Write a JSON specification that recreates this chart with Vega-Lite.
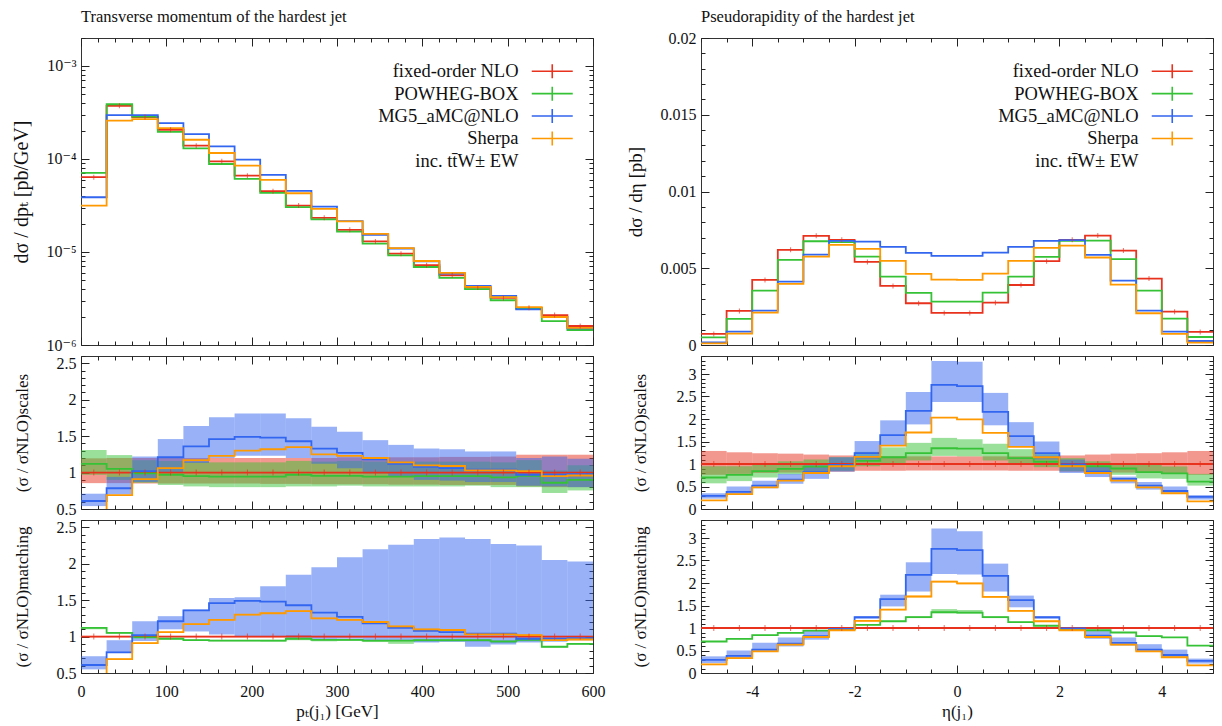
{
"$schema": "https://vega.github.io/schema/vega-lite/v6.json",
"padding": {"left": 10, "top": 8, "right": 5, "bottom": 5},
"columns": 2,
"spacing": {"row": 11, "column": 108},
"bounds": "flush",
"resolve": {"scale": {"color": "shared"}, "legend": {"color": "independent"}},
"config": {
  "font": "Liberation Serif, DejaVu Serif",
  "view": {"stroke": "#333", "strokeWidth": 1},
  "axis": {"labelFont": "Liberation Serif, DejaVu Serif", "labelFontSize": 16, "labelColor": "#111", "titleFont": "Liberation Serif, DejaVu Serif", "titleFontSize": 17, "titleFontWeight": "normal", "titleColor": "#111", "grid": false, "domain": false, "tickColor": "#222", "tickWidth": 1, "labelPadding": 13, "labelFlush": false, "labelOverlap": false, "labelBound": false},
  "legend": {"labelFont": "Liberation Serif, DejaVu Serif"}
},
"datasets": {
"pt": [
{"s":"NLO","lo":0,"hi":30,"v":6.37e-5,"r":1,"sl":0.855,"sh":1.195,"ml":0.99,"mh":1.01},
{"s":"PWG","lo":0,"hi":30,"v":7.08e-5,"r":1.12,"sl":0.97,"sh":1.31,"ml":1.1,"mh":1.13},
{"s":"MG5","lo":0,"hi":30,"v":3.88e-5,"r":0.61,"sl":0.54,"sh":0.71,"ml":0.55,"mh":0.73},
{"s":"SHE","lo":0,"hi":30,"v":3.16e-5,"r":0.48,"sl":null,"sh":null,"ml":0.47,"mh":0.49},
{"s":"NLO","lo":30,"hi":60,"v":3.73e-4,"r":1,"sl":0.855,"sh":1.2,"ml":0.99,"mh":1.01},
{"s":"PWG","lo":30,"hi":60,"v":3.88e-4,"r":1.05,"sl":0.9,"sh":1.24,"ml":1.04,"mh":1.06},
{"s":"MG5","lo":30,"hi":60,"v":2.96e-4,"r":0.785,"sl":0.7,"sh":0.94,"ml":0.8,"mh":0.95},
{"s":"SHE","lo":30,"hi":60,"v":2.58e-4,"r":0.69,"sl":null,"sh":null,"ml":0.68,"mh":0.7},
{"s":"NLO","lo":60,"hi":90,"v":2.82e-4,"r":1,"sl":0.85,"sh":1.2,"ml":0.99,"mh":1.01},
{"s":"PWG","lo":60,"hi":90,"v":2.86e-4,"r":0.99,"sl":0.86,"sh":1.17,"ml":0.98,"mh":1.0},
{"s":"MG5","lo":60,"hi":90,"v":2.96e-4,"r":1.02,"sl":0.87,"sh":1.22,"ml":0.94,"mh":1.21},
{"s":"SHE","lo":60,"hi":90,"v":2.68e-4,"r":0.91,"sl":null,"sh":null,"ml":0.9,"mh":0.92},
{"s":"NLO","lo":90,"hi":120,"v":2.06e-4,"r":1,"sl":0.85,"sh":1.2,"ml":0.99,"mh":1.01},
{"s":"PWG","lo":90,"hi":120,"v":1.96e-4,"r":0.97,"sl":0.83,"sh":1.16,"ml":0.96,"mh":0.98},
{"s":"MG5","lo":90,"hi":120,"v":2.43e-4,"r":1.21,"sl":1.0,"sh":1.46,"ml":1.1,"mh":1.28},
{"s":"SHE","lo":90,"hi":120,"v":2.15e-4,"r":1.06,"sl":null,"sh":null,"ml":1.05,"mh":1.07},
{"s":"NLO","lo":120,"hi":150,"v":1.39e-4,"r":1,"sl":0.85,"sh":1.2,"ml":0.99,"mh":1.01},
{"s":"PWG","lo":120,"hi":150,"v":1.30e-4,"r":0.95,"sl":0.81,"sh":1.15,"ml":0.94,"mh":0.96},
{"s":"MG5","lo":120,"hi":150,"v":1.85e-4,"r":1.36,"sl":1.13,"sh":1.64,"ml":1.07,"mh":1.37},
{"s":"SHE","lo":120,"hi":150,"v":1.61e-4,"r":1.17,"sl":null,"sh":null,"ml":1.16,"mh":1.18},
{"s":"NLO","lo":150,"hi":180,"v":9.44e-5,"r":1,"sl":0.85,"sh":1.2,"ml":0.99,"mh":1.01},
{"s":"PWG","lo":150,"hi":180,"v":8.83e-5,"r":0.945,"sl":0.8,"sh":1.14,"ml":0.935,"mh":0.955},
{"s":"MG5","lo":150,"hi":180,"v":1.37e-4,"r":1.46,"sl":1.2,"sh":1.76,"ml":1.03,"mh":1.53},
{"s":"SHE","lo":150,"hi":180,"v":1.16e-4,"r":1.23,"sl":null,"sh":null,"ml":1.22,"mh":1.24},
{"s":"NLO","lo":180,"hi":210,"v":6.62e-5,"r":1,"sl":0.85,"sh":1.2,"ml":0.99,"mh":1.01},
{"s":"PWG","lo":180,"hi":210,"v":6.11e-5,"r":0.945,"sl":0.8,"sh":1.14,"ml":0.935,"mh":0.955},
{"s":"MG5","lo":180,"hi":210,"v":9.84e-5,"r":1.49,"sl":1.23,"sh":1.81,"ml":1.0,"mh":1.54},
{"s":"SHE","lo":180,"hi":210,"v":8.48e-5,"r":1.3,"sl":null,"sh":null,"ml":1.29,"mh":1.31},
{"s":"NLO","lo":210,"hi":240,"v":4.51e-5,"r":1,"sl":0.845,"sh":1.2,"ml":0.99,"mh":1.01},
{"s":"PWG","lo":210,"hi":240,"v":4.33e-5,"r":0.945,"sl":0.8,"sh":1.14,"ml":0.93,"mh":0.955},
{"s":"MG5","lo":210,"hi":240,"v":6.74e-5,"r":1.48,"sl":1.23,"sh":1.81,"ml":1.0,"mh":1.69},
{"s":"SHE","lo":210,"hi":240,"v":5.96e-5,"r":1.32,"sl":null,"sh":null,"ml":1.31,"mh":1.33},
{"s":"NLO","lo":240,"hi":270,"v":3.16e-5,"r":1,"sl":0.845,"sh":1.2,"ml":0.995,"mh":1.02},
{"s":"PWG","lo":240,"hi":270,"v":3.03e-5,"r":0.97,"sl":0.81,"sh":1.16,"ml":0.95,"mh":0.98},
{"s":"MG5","lo":240,"hi":270,"v":4.54e-5,"r":1.43,"sl":1.2,"sh":1.745,"ml":0.97,"mh":1.85},
{"s":"SHE","lo":240,"hi":270,"v":4.28e-5,"r":1.35,"sl":null,"sh":null,"ml":1.34,"mh":1.36},
{"s":"NLO","lo":270,"hi":300,"v":2.33e-5,"r":1,"sl":0.84,"sh":1.2,"ml":0.99,"mh":1.01},
{"s":"PWG","lo":270,"hi":300,"v":2.24e-5,"r":0.955,"sl":0.81,"sh":1.15,"ml":0.935,"mh":0.965},
{"s":"MG5","lo":270,"hi":300,"v":3.08e-5,"r":1.33,"sl":1.12,"sh":1.63,"ml":0.96,"mh":1.95},
{"s":"SHE","lo":270,"hi":300,"v":2.91e-5,"r":1.25,"sl":null,"sh":null,"ml":1.24,"mh":1.26},
{"s":"NLO","lo":300,"hi":330,"v":1.73e-5,"r":1,"sl":0.84,"sh":1.21,"ml":0.99,"mh":1.01},
{"s":"PWG","lo":300,"hi":330,"v":1.66e-5,"r":0.955,"sl":0.82,"sh":1.16,"ml":0.94,"mh":0.965},
{"s":"MG5","lo":300,"hi":330,"v":2.15e-5,"r":1.27,"sl":1.06,"sh":1.56,"ml":0.97,"mh":2.09},
{"s":"SHE","lo":300,"hi":330,"v":2.13e-5,"r":1.23,"sl":null,"sh":null,"ml":1.22,"mh":1.24},
{"s":"NLO","lo":330,"hi":360,"v":1.30e-5,"r":1,"sl":0.84,"sh":1.21,"ml":0.99,"mh":1.01},
{"s":"PWG","lo":330,"hi":360,"v":1.23e-5,"r":0.945,"sl":0.81,"sh":1.15,"ml":0.925,"mh":0.955},
{"s":"MG5","lo":330,"hi":360,"v":1.53e-5,"r":1.18,"sl":0.99,"sh":1.445,"ml":0.95,"mh":2.2},
{"s":"SHE","lo":330,"hi":360,"v":1.57e-5,"r":1.2,"sl":null,"sh":null,"ml":1.19,"mh":1.21},
{"s":"NLO","lo":360,"hi":390,"v":9.6e-6,"r":1,"sl":0.835,"sh":1.21,"ml":0.99,"mh":1.01},
{"s":"PWG","lo":360,"hi":390,"v":9.2e-6,"r":0.945,"sl":0.81,"sh":1.15,"ml":0.9,"mh":0.955},
{"s":"MG5","lo":360,"hi":390,"v":1.09e-5,"r":1.12,"sl":0.94,"sh":1.38,"ml":0.94,"mh":2.26},
{"s":"SHE","lo":360,"hi":390,"v":1.10e-5,"r":1.14,"sl":null,"sh":null,"ml":1.13,"mh":1.15},
{"s":"NLO","lo":390,"hi":420,"v":7.2e-6,"r":1,"sl":0.835,"sh":1.21,"ml":0.99,"mh":1.01},
{"s":"PWG","lo":390,"hi":420,"v":6.9e-6,"r":0.95,"sl":0.81,"sh":1.15,"ml":0.93,"mh":0.96},
{"s":"MG5","lo":390,"hi":420,"v":7.94e-6,"r":1.08,"sl":0.9,"sh":1.33,"ml":0.92,"mh":2.34},
{"s":"SHE","lo":390,"hi":420,"v":8.0e-6,"r":1.1,"sl":null,"sh":null,"ml":1.09,"mh":1.11},
{"s":"NLO","lo":420,"hi":450,"v":5.62e-6,"r":1,"sl":0.83,"sh":1.215,"ml":0.99,"mh":1.01},
{"s":"PWG","lo":420,"hi":450,"v":5.26e-6,"r":0.95,"sl":0.81,"sh":1.15,"ml":0.93,"mh":0.96},
{"s":"MG5","lo":420,"hi":450,"v":5.86e-6,"r":1.06,"sl":0.89,"sh":1.32,"ml":0.93,"mh":2.36},
{"s":"SHE","lo":420,"hi":450,"v":5.96e-6,"r":1.09,"sl":null,"sh":null,"ml":1.08,"mh":1.1},
{"s":"NLO","lo":450,"hi":480,"v":4.15e-6,"r":1,"sl":0.83,"sh":1.215,"ml":0.99,"mh":1.01},
{"s":"PWG","lo":450,"hi":480,"v":3.98e-6,"r":0.95,"sl":0.82,"sh":1.15,"ml":0.93,"mh":0.96},
{"s":"MG5","lo":450,"hi":480,"v":4.32e-6,"r":1.04,"sl":0.87,"sh":1.29,"ml":0.86,"mh":2.34},
{"s":"SHE","lo":450,"hi":480,"v":4.22e-6,"r":1.03,"sl":null,"sh":null,"ml":1.02,"mh":1.04},
{"s":"NLO","lo":480,"hi":510,"v":3.21e-6,"r":1,"sl":0.83,"sh":1.22,"ml":0.99,"mh":1.01},
{"s":"PWG","lo":480,"hi":510,"v":3.03e-6,"r":0.935,"sl":0.8,"sh":1.14,"ml":0.91,"mh":0.945},
{"s":"MG5","lo":480,"hi":510,"v":3.38e-6,"r":1.04,"sl":0.87,"sh":1.29,"ml":0.89,"mh":2.27},
{"s":"SHE","lo":480,"hi":510,"v":3.27e-6,"r":1.03,"sl":null,"sh":null,"ml":1.02,"mh":1.04},
{"s":"NLO","lo":510,"hi":540,"v":2.51e-6,"r":1,"sl":0.81,"sh":1.245,"ml":0.99,"mh":1.01},
{"s":"PWG","lo":510,"hi":540,"v":2.47e-6,"r":0.955,"sl":0.8,"sh":1.17,"ml":0.935,"mh":0.965},
{"s":"MG5","lo":510,"hi":540,"v":2.41e-6,"r":0.97,"sl":0.82,"sh":1.2,"ml":0.92,"mh":2.25},
{"s":"SHE","lo":510,"hi":540,"v":2.55e-6,"r":1.02,"sl":null,"sh":null,"ml":1.01,"mh":1.03},
{"s":"NLO","lo":540,"hi":570,"v":2.10e-6,"r":1,"sl":0.8,"sh":1.245,"ml":0.99,"mh":1.01},
{"s":"PWG","lo":540,"hi":570,"v":1.81e-6,"r":0.86,"sl":0.72,"sh":1.03,"ml":0.85,"mh":0.87},
{"s":"MG5","lo":540,"hi":570,"v":2.0e-6,"r":0.97,"sl":0.81,"sh":1.22,"ml":0.93,"mh":2.05},
{"s":"SHE","lo":540,"hi":570,"v":2.0e-6,"r":0.95,"sl":null,"sh":null,"ml":0.94,"mh":0.96},
{"s":"NLO","lo":570,"hi":600,"v":1.60e-6,"r":1,"sl":0.8,"sh":1.245,"ml":0.99,"mh":1.01},
{"s":"PWG","lo":570,"hi":600,"v":1.45e-6,"r":0.9,"sl":0.755,"sh":1.1,"ml":0.89,"mh":0.91},
{"s":"MG5","lo":570,"hi":600,"v":1.51e-6,"r":0.98,"sl":0.8,"sh":1.19,"ml":0.95,"mh":2.03},
{"s":"SHE","lo":570,"hi":600,"v":1.53e-6,"r":0.96,"sl":null,"sh":null,"ml":0.95,"mh":0.97}
],
"eta": [
{"s":"NLO","lo":-5,"hi":-4.5,"v":0.00072,"r":1,"sl":0.76,"sh":1.29,"ml":0.995,"mh":1.005},
{"s":"PWG","lo":-5,"hi":-4.5,"v":0.0005,"r":0.7,"sl":0.57,"sh":0.95,"ml":0.69,"mh":0.71},
{"s":"MG5","lo":-5,"hi":-4.5,"v":0.00017,"r":0.29,"sl":0.23,"sh":0.35,"ml":0.22,"mh":0.37},
{"s":"SHE","lo":-5,"hi":-4.5,"v":0.00011,"r":0.19,"sl":null,"sh":null,"ml":0.175,"mh":0.205},
{"s":"NLO","lo":-4.5,"hi":-4,"v":0.00222,"r":1,"sl":0.78,"sh":1.26,"ml":0.995,"mh":1.005},
{"s":"PWG","lo":-4.5,"hi":-4,"v":0.0017,"r":0.76,"sl":0.62,"sh":0.95,"ml":0.75,"mh":0.77},
{"s":"MG5","lo":-4.5,"hi":-4,"v":0.00087,"r":0.38,"sl":0.32,"sh":0.5,"ml":0.33,"mh":0.5},
{"s":"SHE","lo":-4.5,"hi":-4,"v":0.00074,"r":0.33,"sl":null,"sh":null,"ml":0.315,"mh":0.345},
{"s":"NLO","lo":-4,"hi":-3.5,"v":0.00424,"r":1,"sl":0.8,"sh":1.24,"ml":0.995,"mh":1.005},
{"s":"PWG","lo":-4,"hi":-3.5,"v":0.00354,"r":0.84,"sl":0.7,"sh":1.0,"ml":0.83,"mh":0.85},
{"s":"MG5","lo":-4,"hi":-3.5,"v":0.00224,"r":0.52,"sl":0.46,"sh":0.63,"ml":0.47,"mh":0.67},
{"s":"SHE","lo":-4,"hi":-3.5,"v":0.00211,"r":0.48,"sl":null,"sh":null,"ml":0.465,"mh":0.495},
{"s":"NLO","lo":-3.5,"hi":-3,"v":0.0062,"r":1,"sl":0.81,"sh":1.23,"ml":0.995,"mh":1.005},
{"s":"PWG","lo":-3.5,"hi":-3,"v":0.00554,"r":0.89,"sl":0.77,"sh":1.06,"ml":0.88,"mh":0.9},
{"s":"MG5","lo":-3.5,"hi":-3,"v":0.00413,"r":0.65,"sl":0.56,"sh":0.78,"ml":0.59,"mh":0.79},
{"s":"SHE","lo":-3.5,"hi":-3,"v":0.00398,"r":0.63,"sl":null,"sh":null,"ml":0.615,"mh":0.645},
{"s":"NLO","lo":-3,"hi":-2.5,"v":0.00711,"r":1,"sl":0.82,"sh":1.21,"ml":0.995,"mh":1.005},
{"s":"PWG","lo":-3,"hi":-2.5,"v":0.00676,"r":0.94,"sl":0.82,"sh":1.1,"ml":0.93,"mh":0.95},
{"s":"MG5","lo":-3,"hi":-2.5,"v":0.00589,"r":0.82,"sl":0.67,"sh":0.97,"ml":0.74,"mh":0.94},
{"s":"SHE","lo":-3,"hi":-2.5,"v":0.00576,"r":0.8,"sl":null,"sh":null,"ml":0.785,"mh":0.815},
{"s":"NLO","lo":-2.5,"hi":-2,"v":0.00685,"r":1,"sl":0.83,"sh":1.19,"ml":0.995,"mh":1.005},
{"s":"PWG","lo":-2.5,"hi":-2,"v":0.0067,"r":0.97,"sl":0.85,"sh":1.15,"ml":0.96,"mh":0.98},
{"s":"MG5","lo":-2.5,"hi":-2,"v":0.00678,"r":0.98,"sl":0.83,"sh":1.15,"ml":0.94,"mh":1.02},
{"s":"SHE","lo":-2.5,"hi":-2,"v":0.00652,"r":0.95,"sl":null,"sh":null,"ml":0.935,"mh":0.965},
{"s":"NLO","lo":-2,"hi":-1.5,"v":0.00541,"r":1,"sl":0.85,"sh":1.17,"ml":0.995,"mh":1.005},
{"s":"PWG","lo":-2,"hi":-1.5,"v":0.00576,"r":1.07,"sl":0.95,"sh":1.27,"ml":1.06,"mh":1.08},
{"s":"MG5","lo":-2,"hi":-1.5,"v":0.00674,"r":1.24,"sl":1.1,"sh":1.51,"ml":1.2,"mh":1.26},
{"s":"SHE","lo":-2,"hi":-1.5,"v":0.00626,"r":1.16,"sl":null,"sh":null,"ml":1.145,"mh":1.175},
{"s":"NLO","lo":-1.5,"hi":-1,"v":0.00385,"r":1,"sl":0.85,"sh":1.17,"ml":0.995,"mh":1.005},
{"s":"PWG","lo":-1.5,"hi":-1,"v":0.00446,"r":1.15,"sl":1.0,"sh":1.37,"ml":1.14,"mh":1.16},
{"s":"MG5","lo":-1.5,"hi":-1,"v":0.00639,"r":1.64,"sl":1.41,"sh":1.97,"ml":1.48,"mh":1.74},
{"s":"SHE","lo":-1.5,"hi":-1,"v":0.00548,"r":1.41,"sl":null,"sh":null,"ml":1.395,"mh":1.425},
{"s":"NLO","lo":-1,"hi":-0.5,"v":0.00272,"r":1,"sl":0.855,"sh":1.17,"ml":0.995,"mh":1.005},
{"s":"PWG","lo":-1,"hi":-0.5,"v":0.00339,"r":1.24,"sl":1.08,"sh":1.47,"ml":1.22,"mh":1.26},
{"s":"MG5","lo":-1,"hi":-0.5,"v":0.006,"r":2.18,"sl":1.88,"sh":2.6,"ml":1.81,"mh":2.46},
{"s":"SHE","lo":-1,"hi":-0.5,"v":0.00463,"r":1.7,"sl":null,"sh":null,"ml":1.68,"mh":1.72},
{"s":"NLO","lo":-0.5,"hi":0,"v":0.00209,"r":1,"sl":0.855,"sh":1.17,"ml":0.995,"mh":1.005},
{"s":"PWG","lo":-0.5,"hi":0,"v":0.00283,"r":1.35,"sl":1.18,"sh":1.58,"ml":1.33,"mh":1.42},
{"s":"MG5","lo":-0.5,"hi":0,"v":0.0058,"r":2.76,"sl":2.38,"sh":3.29,"ml":2.2,"mh":3.21},
{"s":"SHE","lo":-0.5,"hi":0,"v":0.00426,"r":2.03,"sl":null,"sh":null,"ml":2.01,"mh":2.05},
{"s":"NLO","lo":0,"hi":0.5,"v":0.00209,"r":1,"sl":0.855,"sh":1.17,"ml":0.995,"mh":1.005},
{"s":"PWG","lo":0,"hi":0.5,"v":0.00283,"r":1.34,"sl":1.17,"sh":1.55,"ml":1.32,"mh":1.4},
{"s":"MG5","lo":0,"hi":0.5,"v":0.0058,"r":2.73,"sl":2.38,"sh":3.27,"ml":2.19,"mh":3.15},
{"s":"SHE","lo":0,"hi":0.5,"v":0.00424,"r":1.99,"sl":null,"sh":null,"ml":1.97,"mh":2.01},
{"s":"NLO","lo":0.5,"hi":1,"v":0.00276,"r":1,"sl":0.855,"sh":1.17,"ml":0.995,"mh":1.005},
{"s":"PWG","lo":0.5,"hi":1,"v":0.00341,"r":1.24,"sl":1.08,"sh":1.45,"ml":1.22,"mh":1.26},
{"s":"MG5","lo":0.5,"hi":1,"v":0.00602,"r":2.16,"sl":1.86,"sh":2.58,"ml":1.81,"mh":2.43},
{"s":"SHE","lo":0.5,"hi":1,"v":0.00465,"r":1.69,"sl":null,"sh":null,"ml":1.67,"mh":1.71},
{"s":"NLO","lo":1,"hi":1.5,"v":0.00391,"r":1,"sl":0.85,"sh":1.17,"ml":0.995,"mh":1.005},
{"s":"PWG","lo":1,"hi":1.5,"v":0.00446,"r":1.13,"sl":0.98,"sh":1.33,"ml":1.12,"mh":1.14},
{"s":"MG5","lo":1,"hi":1.5,"v":0.00639,"r":1.62,"sl":1.38,"sh":1.93,"ml":1.46,"mh":1.72},
{"s":"SHE","lo":1,"hi":1.5,"v":0.00548,"r":1.38,"sl":null,"sh":null,"ml":1.365,"mh":1.395},
{"s":"NLO","lo":1.5,"hi":2,"v":0.00546,"r":1,"sl":0.85,"sh":1.17,"ml":0.995,"mh":1.005},
{"s":"PWG","lo":1.5,"hi":2,"v":0.00574,"r":1.05,"sl":0.93,"sh":1.22,"ml":1.04,"mh":1.06},
{"s":"MG5","lo":1.5,"hi":2,"v":0.00678,"r":1.24,"sl":1.1,"sh":1.5,"ml":1.2,"mh":1.26},
{"s":"SHE","lo":1.5,"hi":2,"v":0.00633,"r":1.15,"sl":null,"sh":null,"ml":1.135,"mh":1.165},
{"s":"NLO","lo":2,"hi":2.5,"v":0.00685,"r":1,"sl":0.83,"sh":1.19,"ml":0.995,"mh":1.005},
{"s":"PWG","lo":2,"hi":2.5,"v":0.00678,"r":0.97,"sl":0.84,"sh":1.13,"ml":0.96,"mh":0.98},
{"s":"MG5","lo":2,"hi":2.5,"v":0.00683,"r":0.99,"sl":0.8,"sh":1.1,"ml":0.94,"mh":1.02},
{"s":"SHE","lo":2,"hi":2.5,"v":0.00648,"r":0.95,"sl":null,"sh":null,"ml":0.935,"mh":0.965},
{"s":"NLO","lo":2.5,"hi":3,"v":0.00713,"r":1,"sl":0.82,"sh":1.21,"ml":0.995,"mh":1.005},
{"s":"PWG","lo":2.5,"hi":3,"v":0.0068,"r":0.95,"sl":0.8,"sh":1.06,"ml":0.94,"mh":0.96},
{"s":"MG5","lo":2.5,"hi":3,"v":0.00587,"r":0.83,"sl":0.71,"sh":0.96,"ml":0.76,"mh":0.94},
{"s":"SHE","lo":2.5,"hi":3,"v":0.0057,"r":0.8,"sl":null,"sh":null,"ml":0.785,"mh":0.815},
{"s":"NLO","lo":3,"hi":3.5,"v":0.00615,"r":1,"sl":0.81,"sh":1.23,"ml":0.995,"mh":1.005},
{"s":"PWG","lo":3,"hi":3.5,"v":0.00559,"r":0.9,"sl":0.76,"sh":1.0,"ml":0.89,"mh":0.91},
{"s":"MG5","lo":3,"hi":3.5,"v":0.0042,"r":0.67,"sl":0.57,"sh":0.72,"ml":0.61,"mh":0.79},
{"s":"SHE","lo":3,"hi":3.5,"v":0.00393,"r":0.63,"sl":null,"sh":null,"ml":0.615,"mh":0.645},
{"s":"NLO","lo":3.5,"hi":4,"v":0.00433,"r":1,"sl":0.8,"sh":1.24,"ml":0.995,"mh":1.005},
{"s":"PWG","lo":3.5,"hi":4,"v":0.00354,"r":0.82,"sl":0.68,"sh":0.98,"ml":0.81,"mh":0.83},
{"s":"MG5","lo":3.5,"hi":4,"v":0.00224,"r":0.52,"sl":0.43,"sh":0.6,"ml":0.48,"mh":0.64},
{"s":"SHE","lo":3.5,"hi":4,"v":0.00207,"r":0.48,"sl":null,"sh":null,"ml":0.465,"mh":0.495},
{"s":"NLO","lo":4,"hi":4.5,"v":0.00217,"r":1,"sl":0.78,"sh":1.26,"ml":0.995,"mh":1.005},
{"s":"PWG","lo":4,"hi":4.5,"v":0.00172,"r":0.79,"sl":0.67,"sh":0.945,"ml":0.78,"mh":0.8},
{"s":"MG5","lo":4,"hi":4.5,"v":0.00087,"r":0.4,"sl":0.35,"sh":0.5,"ml":0.35,"mh":0.52},
{"s":"SHE","lo":4,"hi":4.5,"v":0.00072,"r":0.35,"sl":null,"sh":null,"ml":0.335,"mh":0.365},
{"s":"NLO","lo":4.5,"hi":5,"v":0.00085,"r":1,"sl":0.76,"sh":1.29,"ml":0.995,"mh":1.005},
{"s":"PWG","lo":4.5,"hi":5,"v":0.00052,"r":0.61,"sl":0.52,"sh":0.78,"ml":0.6,"mh":0.62},
{"s":"MG5","lo":4.5,"hi":5,"v":0.00026,"r":0.27,"sl":0.21,"sh":0.31,"ml":0.21,"mh":0.32},
{"s":"SHE","lo":4.5,"hi":5,"v":0.00015,"r":0.17,"sl":null,"sh":null,"ml":0.155,"mh":0.185}
]
},
"concat": [
{
  "width": 512, "height": 307,
  "title": {"text": "Transverse momentum of the hardest jet", "anchor": "start", "frame": "group", "font": "Liberation Serif, DejaVu Serif", "fontSize": 16.5, "fontWeight": "normal", "color": "#111", "offset": 5},
  "data": {"name": "pt"},
  "layer": [
    {"transform": [{"fold": ["lo", "hi"], "as": ["k", "xe"]}],
     "mark": {"type": "line", "strokeWidth": 1.8, "clip": true},
     "encoding": {
       "x": {"field": "xe", "type": "quantitative", "scale": {"domain": [0, 600], "nice": false, "zero": false},
             "axis": {"orient": "bottom", "values": [0,20,40,60,80,100,120,140,160,180,200,220,240,260,280,300,320,340,360,380,400,420,440,460,480,500,520,540,560,580,600], "labels": false, "title": null, "tickSize": {"condition": {"test": "datum.value % 100 == 0", "value": -8}, "value": -4}}},
       "y": {"field": "v", "type": "quantitative", "scale": {"type": "log", "domain": [1e-6, 2e-3], "nice": false},
             "axis": {"orient": "left", "values": [1e-6,2e-6,3e-6,4e-6,5e-6,6e-6,7e-6,8e-6,9e-6,1e-5,2e-5,3e-5,4e-5,5e-5,6e-5,7e-5,8e-5,9e-5,1e-4,2e-4,3e-4,4e-4,5e-4,6e-4,7e-4,8e-4,9e-4,1e-3,2e-3],
                      "labelExpr": "datum.value == 1e-6 ? '10⁻⁶' : datum.value == 1e-5 ? '10⁻⁵' : datum.value == 1e-4 ? '10⁻⁴' : datum.value == 1e-3 ? '10⁻³' : ''",
                      "title": "dσ / dpₜ [pb/GeV]", "titleFontSize": 20, "titlePadding": 14.5,
                      "tickSize": {"condition": {"test": "abs(log(datum.value)/LN10 - round(log(datum.value)/LN10)) < 0.001", "value": -8}, "value": -4}}},
       "color": {"field": "s", "type": "nominal",
                 "scale": {"domain": ["NLO", "PWG", "MG5", "SHE", "EW"], "range": ["#e8321e", "#36c236", "#3366f0", "#ff9900", "rgba(0,0,0,0)"]},
                 "legend": {"orient": "none", "legendX": 446, "legendY": 24, "title": null, "symbolType": "M-4.1,0H4.1M0,-1.4V1.4", "symbolSize": 100, "symbolStrokeWidth": 1.6, "symbolOffset": 16, "labelAlign": "right", "labelOffset": -43, "labelFontSize": 18.5, "labelColor": "#111", "labelLimit": 0, "rowPadding": 1.4, "padding": 0,
                            "labelExpr": "datum.label == 'NLO' ? 'fixed-order NLO' : datum.label == 'PWG' ? 'POWHEG-BOX' : datum.label == 'MG5' ? 'MG5_aMC@NLO' : datum.label == 'SHE' ? 'Sherpa' : 'inc. tt\u0304W± EW'"}},
       "order": [{"field": "xe", "type": "quantitative"}, {"field": "k", "type": "nominal"}]
     }},
    {"transform": [{"filter": "datum.s == 'NLO'"}, {"calculate": "(datum.lo + datum.hi) / 2", "as": "c"}],
     "mark": {"type": "tick", "orient": "vertical", "size": 5, "thickness": 1, "color": "#e8321e"},
     "encoding": {
       "x": {"field": "c", "type": "quantitative", "axis": {"orient": "top", "values": [0,20,40,60,80,100,120,140,160,180,200,220,240,260,280,300,320,340,360,380,400,420,440,460,480,500,520,540,560,580,600], "labels": false, "title": null, "tickSize": {"condition": {"test": "datum.value % 100 == 0", "value": -8}, "value": -4}}},
       "y": {"field": "v", "type": "quantitative", "axis": {"orient": "right", "values": [1e-6,2e-6,3e-6,4e-6,5e-6,6e-6,7e-6,8e-6,9e-6,1e-5,2e-5,3e-5,4e-5,5e-5,6e-5,7e-5,8e-5,9e-5,1e-4,2e-4,3e-4,4e-4,5e-4,6e-4,7e-4,8e-4,9e-4,1e-3,2e-3], "labels": false, "title": null, "tickSize": {"condition": {"test": "abs(log(datum.value)/LN10 - round(log(datum.value)/LN10)) < 0.001", "value": -8}, "value": -4}}}
     }}
  ],
  "resolve": {"axis": {"x": "independent", "y": "independent"}}
},
{
  "width": 512, "height": 307,
  "title": {"text": "Pseudorapidity of the hardest jet", "anchor": "start", "frame": "group", "font": "Liberation Serif, DejaVu Serif", "fontSize": 16.5, "fontWeight": "normal", "color": "#111", "offset": 5},
  "data": {"name": "eta"},
  "layer": [
    {"transform": [{"fold": ["lo", "hi"], "as": ["k", "xe"]}],
     "mark": {"type": "line", "strokeWidth": 1.8, "clip": true},
     "encoding": {
       "x": {"field": "xe", "type": "quantitative", "scale": {"domain": [-5, 5], "nice": false, "zero": false},
             "axis": {"orient": "bottom", "values": [-5,-4.5,-4,-3.5,-3,-2.5,-2,-1.5,-1,-0.5,0,0.5,1,1.5,2,2.5,3,3.5,4,4.5,5], "labels": false, "title": null, "tickSize": {"condition": {"test": "datum.value % 2 == 0", "value": -8}, "value": -4}}},
       "y": {"field": "v", "type": "quantitative", "scale": {"domain": [0, 0.02], "nice": false, "zero": false},
             "axis": {"orient": "left", "values": [0,0.001,0.002,0.003,0.004,0.005,0.006,0.007,0.008,0.009,0.01,0.011,0.012,0.013,0.014,0.015,0.016,0.017,0.018,0.019,0.02],
                      "labelExpr": "abs(datum.value*200 - round(datum.value*200)) < 0.001 ? '' + datum.value : ''",
                      "title": "dσ / dη [pb]", "titleFontSize": 19, "titlePadding": 15,
                      "tickSize": {"condition": {"test": "abs(datum.value*200 - round(datum.value*200)) < 0.001", "value": -8}, "value": -4}}},
       "color": {"field": "s", "type": "nominal",
                 "scale": {"domain": ["NLO", "PWG", "MG5", "SHE", "EW"], "range": ["#e8321e", "#36c236", "#3366f0", "#ff9900", "rgba(0,0,0,0)"]},
                 "legend": {"orient": "none", "legendX": 446, "legendY": 24, "title": null, "symbolType": "M-4.1,0H4.1M0,-1.4V1.4", "symbolSize": 100, "symbolStrokeWidth": 1.6, "symbolOffset": 16, "labelAlign": "right", "labelOffset": -43, "labelFontSize": 18.5, "labelColor": "#111", "labelLimit": 0, "rowPadding": 1.4, "padding": 0,
                            "labelExpr": "datum.label == 'NLO' ? 'fixed-order NLO' : datum.label == 'PWG' ? 'POWHEG-BOX' : datum.label == 'MG5' ? 'MG5_aMC@NLO' : datum.label == 'SHE' ? 'Sherpa' : 'inc. tt\u0304W± EW'"}},
       "order": [{"field": "xe", "type": "quantitative"}, {"field": "k", "type": "nominal"}]
     }},
    {"transform": [{"filter": "datum.s == 'NLO'"}, {"calculate": "(datum.lo + datum.hi) / 2", "as": "c"}],
     "mark": {"type": "tick", "orient": "vertical", "size": 5, "thickness": 1, "color": "#e8321e"},
     "encoding": {
       "x": {"field": "c", "type": "quantitative", "axis": {"orient": "top", "values": [-5,-4.5,-4,-3.5,-3,-2.5,-2,-1.5,-1,-0.5,0,0.5,1,1.5,2,2.5,3,3.5,4,4.5,5], "labels": false, "title": null, "tickSize": {"condition": {"test": "datum.value % 2 == 0", "value": -8}, "value": -4}}},
       "y": {"field": "v", "type": "quantitative", "axis": {"orient": "right", "values": [0,0.001,0.002,0.003,0.004,0.005,0.006,0.007,0.008,0.009,0.01,0.011,0.012,0.013,0.014,0.015,0.016,0.017,0.018,0.019,0.02], "labels": false, "title": null, "tickSize": {"condition": {"test": "abs(datum.value*200 - round(datum.value*200)) < 0.001", "value": -8}, "value": -4}}}
     }}
  ],
  "resolve": {"axis": {"x": "independent", "y": "independent"}}
},
{
  "width": 512, "height": 153,
  "data": {"name": "pt"},
  "layer": [
    {"mark": {"type": "rect", "opacity": 0.5, "clip": true},
     "encoding": {
       "x": {"field": "lo", "type": "quantitative", "scale": {"domain": [0, 600], "nice": false, "zero": false},
             "axis": {"orient": "bottom", "values": [0,20,40,60,80,100,120,140,160,180,200,220,240,260,280,300,320,340,360,380,400,420,440,460,480,500,520,540,560,580,600], "labels": false, "title": null, "tickSize": {"condition": {"test": "datum.value % 100 == 0", "value": -8}, "value": -4}}},
       "x2": {"field": "hi"},
       "y": {"field": "sl", "type": "quantitative", "scale": {"domain": [0.5, 2.6], "nice": false, "zero": false},
             "axis": {"orient": "left", "values": [0.5,0.6,0.7,0.8,0.9,1,1.1,1.2,1.3,1.4,1.5,1.6,1.7,1.8,1.9,2,2.1,2.2,2.3,2.4,2.5,2.6],
                      "labelExpr": "abs(datum.value*2 - round(datum.value*2)) < 0.001 ? '' + datum.value : ''",
                      "title": "(σ / σNLO)scales", "titlePadding": 24.5,
                      "tickSize": {"condition": {"test": "abs(datum.value*2 - round(datum.value*2)) < 0.001", "value": -8}, "value": -4}}},
       "y2": {"field": "sh"},
       "color": {"field": "s", "type": "nominal", "scale": {"domain": ["NLO", "PWG", "MG5", "SHE", "EW"], "range": ["#e8321e", "#36c236", "#3366f0", "#ff9900", "rgba(0,0,0,0)"]}, "legend": null}
     }},
    {"transform": [{"fold": ["lo", "hi"], "as": ["k", "xe"]}],
     "mark": {"type": "line", "strokeWidth": 1.8, "clip": true},
     "encoding": {
       "x": {"field": "xe", "type": "quantitative", "axis": {"orient": "top", "values": [0,20,40,60,80,100,120,140,160,180,200,220,240,260,280,300,320,340,360,380,400,420,440,460,480,500,520,540,560,580,600], "labels": false, "title": null, "tickSize": {"condition": {"test": "datum.value % 100 == 0", "value": -8}, "value": -4}}},
       "y": {"field": "r", "type": "quantitative", "axis": {"orient": "right", "values": [0.5,0.6,0.7,0.8,0.9,1,1.1,1.2,1.3,1.4,1.5,1.6,1.7,1.8,1.9,2,2.1,2.2,2.3,2.4,2.5,2.6], "labels": false, "title": null, "tickSize": {"condition": {"test": "abs(datum.value*2 - round(datum.value*2)) < 0.001", "value": -8}, "value": -4}}},
       "color": {"field": "s", "type": "nominal", "legend": null},
       "order": [{"field": "xe", "type": "quantitative"}, {"field": "k", "type": "nominal"}]
     }},
    {"transform": [{"filter": "datum.s == 'NLO'"}, {"calculate": "(datum.lo + datum.hi) / 2", "as": "c"}],
     "mark": {"type": "tick", "orient": "vertical", "size": 6, "thickness": 1, "color": "#e8321e"},
     "encoding": {"x": {"field": "c", "type": "quantitative", "axis": null}, "y": {"field": "r", "type": "quantitative", "axis": null}}}
  ],
  "resolve": {"axis": {"x": "independent", "y": "independent"}}
},
{
  "width": 512, "height": 153,
  "data": {"name": "eta"},
  "layer": [
    {"mark": {"type": "rect", "opacity": 0.5, "clip": true},
     "encoding": {
       "x": {"field": "lo", "type": "quantitative", "scale": {"domain": [-5, 5], "nice": false, "zero": false},
             "axis": {"orient": "bottom", "values": [-5,-4.5,-4,-3.5,-3,-2.5,-2,-1.5,-1,-0.5,0,0.5,1,1.5,2,2.5,3,3.5,4,4.5,5], "labels": false, "title": null, "tickSize": {"condition": {"test": "datum.value % 2 == 0", "value": -8}, "value": -4}}},
       "x2": {"field": "hi"},
       "y": {"field": "sl", "type": "quantitative", "scale": {"domain": [0, 3.4], "nice": false, "zero": false},
             "axis": {"orient": "left", "values": [0,0.1,0.2,0.3,0.4,0.5,0.6,0.7,0.8,0.9,1,1.1,1.2,1.3,1.4,1.5,1.6,1.7,1.8,1.9,2,2.1,2.2,2.3,2.4,2.5,2.6,2.7,2.8,2.9,3,3.1,3.2,3.3,3.4],
                      "labelExpr": "abs(datum.value*2 - round(datum.value*2)) < 0.001 ? '' + datum.value : ''",
                      "title": "(σ / σNLO)scales", "titlePadding": 27,
                      "tickSize": {"condition": {"test": "abs(datum.value*2 - round(datum.value*2)) < 0.001", "value": -8}, "value": -4}}},
       "y2": {"field": "sh"},
       "color": {"field": "s", "type": "nominal", "scale": {"domain": ["NLO", "PWG", "MG5", "SHE", "EW"], "range": ["#e8321e", "#36c236", "#3366f0", "#ff9900", "rgba(0,0,0,0)"]}, "legend": null}
     }},
    {"transform": [{"fold": ["lo", "hi"], "as": ["k", "xe"]}],
     "mark": {"type": "line", "strokeWidth": 1.8, "clip": true},
     "encoding": {
       "x": {"field": "xe", "type": "quantitative", "axis": {"orient": "top", "values": [-5,-4.5,-4,-3.5,-3,-2.5,-2,-1.5,-1,-0.5,0,0.5,1,1.5,2,2.5,3,3.5,4,4.5,5], "labels": false, "title": null, "tickSize": {"condition": {"test": "datum.value % 2 == 0", "value": -8}, "value": -4}}},
       "y": {"field": "r", "type": "quantitative", "axis": {"orient": "right", "values": [0,0.1,0.2,0.3,0.4,0.5,0.6,0.7,0.8,0.9,1,1.1,1.2,1.3,1.4,1.5,1.6,1.7,1.8,1.9,2,2.1,2.2,2.3,2.4,2.5,2.6,2.7,2.8,2.9,3,3.1,3.2,3.3,3.4], "labels": false, "title": null, "tickSize": {"condition": {"test": "abs(datum.value*2 - round(datum.value*2)) < 0.001", "value": -8}, "value": -4}}},
       "color": {"field": "s", "type": "nominal", "legend": null},
       "order": [{"field": "xe", "type": "quantitative"}, {"field": "k", "type": "nominal"}]
     }},
    {"transform": [{"filter": "datum.s == 'NLO'"}, {"calculate": "(datum.lo + datum.hi) / 2", "as": "c"}],
     "mark": {"type": "tick", "orient": "vertical", "size": 6, "thickness": 1, "color": "#e8321e"},
     "encoding": {"x": {"field": "c", "type": "quantitative", "axis": null}, "y": {"field": "r", "type": "quantitative", "axis": null}}}
  ],
  "resolve": {"axis": {"x": "independent", "y": "independent"}}
},
{
  "width": 512, "height": 153,
  "data": {"name": "pt"},
  "layer": [
    {"mark": {"type": "rect", "opacity": 0.5, "clip": true},
     "encoding": {
       "x": {"field": "lo", "type": "quantitative", "scale": {"domain": [0, 600], "nice": false, "zero": false},
             "axis": {"orient": "bottom", "values": [0,20,40,60,80,100,120,140,160,180,200,220,240,260,280,300,320,340,360,380,400,420,440,460,480,500,520,540,560,580,600],
                      "labelExpr": "datum.value % 100 == 0 ? '' + datum.value : ''", "title": "pₜ(j₁) [GeV]", "labelPadding": 18, "titlePadding": 0,
                      "tickSize": {"condition": {"test": "datum.value % 100 == 0", "value": -8}, "value": -4}}},
       "x2": {"field": "hi"},
       "y": {"field": "ml", "type": "quantitative", "scale": {"domain": [0.5, 2.6], "nice": false, "zero": false},
             "axis": {"orient": "left", "values": [0.5,0.6,0.7,0.8,0.9,1,1.1,1.2,1.3,1.4,1.5,1.6,1.7,1.8,1.9,2,2.1,2.2,2.3,2.4,2.5,2.6],
                      "labelExpr": "abs(datum.value*2 - round(datum.value*2)) < 0.001 ? '' + datum.value : ''",
                      "title": "(σ / σNLO)matching", "titlePadding": 24.5,
                      "tickSize": {"condition": {"test": "abs(datum.value*2 - round(datum.value*2)) < 0.001", "value": -8}, "value": -4}}},
       "y2": {"field": "mh"},
       "color": {"field": "s", "type": "nominal", "scale": {"domain": ["NLO", "PWG", "MG5", "SHE", "EW"], "range": ["#e8321e", "#36c236", "#3366f0", "#ff9900", "rgba(0,0,0,0)"]}, "legend": null}
     }},
    {"transform": [{"fold": ["lo", "hi"], "as": ["k", "xe"]}],
     "mark": {"type": "line", "strokeWidth": 1.8, "clip": true},
     "encoding": {
       "x": {"field": "xe", "type": "quantitative", "axis": {"orient": "top", "values": [0,20,40,60,80,100,120,140,160,180,200,220,240,260,280,300,320,340,360,380,400,420,440,460,480,500,520,540,560,580,600], "labels": false, "title": null, "tickSize": {"condition": {"test": "datum.value % 100 == 0", "value": -8}, "value": -4}}},
       "y": {"field": "r", "type": "quantitative", "axis": {"orient": "right", "values": [0.5,0.6,0.7,0.8,0.9,1,1.1,1.2,1.3,1.4,1.5,1.6,1.7,1.8,1.9,2,2.1,2.2,2.3,2.4,2.5,2.6], "labels": false, "title": null, "tickSize": {"condition": {"test": "abs(datum.value*2 - round(datum.value*2)) < 0.001", "value": -8}, "value": -4}}},
       "color": {"field": "s", "type": "nominal", "legend": null},
       "order": [{"field": "xe", "type": "quantitative"}, {"field": "k", "type": "nominal"}]
     }},
    {"transform": [{"filter": "datum.s == 'NLO'"}, {"calculate": "(datum.lo + datum.hi) / 2", "as": "c"}],
     "mark": {"type": "tick", "orient": "vertical", "size": 6, "thickness": 1, "color": "#e8321e"},
     "encoding": {"x": {"field": "c", "type": "quantitative", "axis": null}, "y": {"field": "r", "type": "quantitative", "axis": null}}}
  ],
  "resolve": {"axis": {"x": "independent", "y": "independent"}}
},
{
  "width": 512, "height": 153,
  "data": {"name": "eta"},
  "layer": [
    {"mark": {"type": "rect", "opacity": 0.5, "clip": true},
     "encoding": {
       "x": {"field": "lo", "type": "quantitative", "scale": {"domain": [-5, 5], "nice": false, "zero": false},
             "axis": {"orient": "bottom", "values": [-5,-4.5,-4,-3.5,-3,-2.5,-2,-1.5,-1,-0.5,0,0.5,1,1.5,2,2.5,3,3.5,4,4.5,5],
                      "labelExpr": "datum.value % 2 == 0 ? '' + datum.value : ''", "title": "η(j₁)", "labelPadding": 18, "titlePadding": 0,
                      "tickSize": {"condition": {"test": "datum.value % 2 == 0", "value": -8}, "value": -4}}},
       "x2": {"field": "hi"},
       "y": {"field": "ml", "type": "quantitative", "scale": {"domain": [0, 3.4], "nice": false, "zero": false},
             "axis": {"orient": "left", "values": [0,0.1,0.2,0.3,0.4,0.5,0.6,0.7,0.8,0.9,1,1.1,1.2,1.3,1.4,1.5,1.6,1.7,1.8,1.9,2,2.1,2.2,2.3,2.4,2.5,2.6,2.7,2.8,2.9,3,3.1,3.2,3.3,3.4],
                      "labelExpr": "abs(datum.value*2 - round(datum.value*2)) < 0.001 ? '' + datum.value : ''",
                      "title": "(σ / σNLO)matching", "titlePadding": 27,
                      "tickSize": {"condition": {"test": "abs(datum.value*2 - round(datum.value*2)) < 0.001", "value": -8}, "value": -4}}},
       "y2": {"field": "mh"},
       "color": {"field": "s", "type": "nominal", "scale": {"domain": ["NLO", "PWG", "MG5", "SHE", "EW"], "range": ["#e8321e", "#36c236", "#3366f0", "#ff9900", "rgba(0,0,0,0)"]}, "legend": null}
     }},
    {"transform": [{"fold": ["lo", "hi"], "as": ["k", "xe"]}],
     "mark": {"type": "line", "strokeWidth": 1.8, "clip": true},
     "encoding": {
       "x": {"field": "xe", "type": "quantitative", "axis": {"orient": "top", "values": [-5,-4.5,-4,-3.5,-3,-2.5,-2,-1.5,-1,-0.5,0,0.5,1,1.5,2,2.5,3,3.5,4,4.5,5], "labels": false, "title": null, "tickSize": {"condition": {"test": "datum.value % 2 == 0", "value": -8}, "value": -4}}},
       "y": {"field": "r", "type": "quantitative", "axis": {"orient": "right", "values": [0,0.1,0.2,0.3,0.4,0.5,0.6,0.7,0.8,0.9,1,1.1,1.2,1.3,1.4,1.5,1.6,1.7,1.8,1.9,2,2.1,2.2,2.3,2.4,2.5,2.6,2.7,2.8,2.9,3,3.1,3.2,3.3,3.4], "labels": false, "title": null, "tickSize": {"condition": {"test": "abs(datum.value*2 - round(datum.value*2)) < 0.001", "value": -8}, "value": -4}}},
       "color": {"field": "s", "type": "nominal", "legend": null},
       "order": [{"field": "xe", "type": "quantitative"}, {"field": "k", "type": "nominal"}]
     }},
    {"transform": [{"filter": "datum.s == 'NLO'"}, {"calculate": "(datum.lo + datum.hi) / 2", "as": "c"}],
     "mark": {"type": "tick", "orient": "vertical", "size": 6, "thickness": 1, "color": "#e8321e"},
     "encoding": {"x": {"field": "c", "type": "quantitative", "axis": null}, "y": {"field": "r", "type": "quantitative", "axis": null}}}
  ],
  "resolve": {"axis": {"x": "independent", "y": "independent"}}
}
]
}
